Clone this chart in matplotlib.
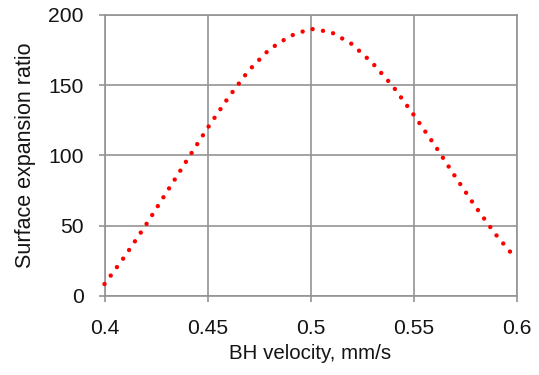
import matplotlib
matplotlib.use("Agg")
import matplotlib.pyplot as plt

# BH velocity (mm/s) vs surface expansion ratio
velocity = [0.40, 0.41, 0.42, 0.43, 0.44, 0.45, 0.46, 0.47, 0.48, 0.49, 0.50,
            0.51, 0.52, 0.53, 0.54, 0.55, 0.56, 0.57, 0.58, 0.59, 0.60]
ratio = [8.5, 28.5, 50.4, 73.5, 96.6, 119.5, 141.0, 160.5, 175.5, 185.0, 190.2,
         187.8, 179.4, 165.9, 149.3, 129.1, 108.0, 85.5, 63.7, 43.6, 26.0]

x_ticks = [0.4, 0.45, 0.5, 0.55, 0.6]
x_tick_labels = ["0.4", "0.45", "0.5", "0.55", "0.6"]
y_ticks = [0, 50, 100, 150, 200]

plt.rcParams['font.family'] = ['Liberation Sans', 'DejaVu Sans']
grid_col = '#939393'
text_col = '#141414'

fig = plt.figure(figsize=(5.39, 3.75), dpi=100)
ax = fig.add_axes([0.1939, 0.2107, 0.7644, 0.7493])

# dotted red line (round dots)
ax.plot(velocity, ratio, color='#ff0000', linewidth=3.2,
        linestyle=(0, (0.001, 2.36)), dash_capstyle='round',
        zorder=3, clip_on=False)

ax.set_xlim(0.4, 0.6)
ax.set_ylim(0, 200)
ax.set_xticks(x_ticks)
ax.set_xticklabels(x_tick_labels)
ax.set_yticks(y_ticks)

ax.grid(True, color=grid_col, linewidth=1.2)
for s in ax.spines.values():
    s.set_color(grid_col)
    s.set_linewidth(1.2)

ax.tick_params(axis='both', direction='out', length=4.3, width=1.2,
               color=grid_col, labelsize=15.2, labelcolor=text_col)
ax.tick_params(axis='x', pad=12.5)
ax.tick_params(axis='y', pad=10.5)

ax.set_xlabel('BH velocity, mm/s', fontsize=14.8, color=text_col, labelpad=4)
ax.set_ylabel('Surface expansion ratio', fontsize=15.5, color=text_col, labelpad=9)

fig.savefig('out.png', dpi=100)
